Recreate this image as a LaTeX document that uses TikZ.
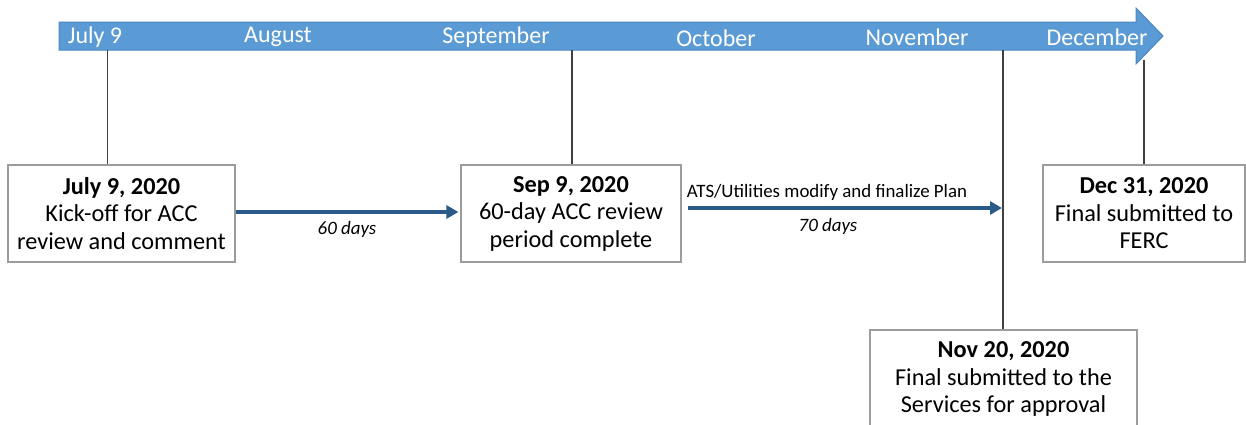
\documentclass[tikz,border=0pt]{standalone}
\usepackage{fontspec}
\setmainfont{Carlito}
\usetikzlibrary{arrows.meta,calc}
\definecolor{bandfill}{HTML}{5B9BD5}
\definecolor{bandedge}{HTML}{4A87C2}
\definecolor{flowblue}{HTML}{2C5A88}
\definecolor{boxedge}{HTML}{9C9C9C}
\definecolor{tickgray}{HTML}{404040}
\tikzset{
  month/.style={text=white, font=\fontsize{24}{28}\selectfont, inner sep=0pt},
  event/.style={draw=boxedge, line width=1.2pt, fill=white, align=center,
    inner sep=0pt, font=\fontsize{24.3}{27.5}\selectfont},
  tick/.style={draw=tickgray, line width=1.5pt},
  flow/.style={draw=flowblue, line width=4pt, -{Triangle[length=12pt,width=13pt]}},
  note/.style={font=\fontsize{18.9}{22}\selectfont, inner sep=0pt},
}
\begin{document}
\begin{tikzpicture}[x=1pt,y=-1pt]
\useasboundingbox (0,0) rectangle (1246,424);

% timeline band with arrow head
\path[fill=bandfill, draw=bandedge, line width=1pt]
  (59,22) -- (1136,22) -- (1136,8) -- (1163,36) -- (1136,64) -- (1136,50) -- (59,50) -- cycle;

% month labels
\node[month] (mJul) at (95,37)  {July 9};
\node[month] (mAug) at (278,37) {August};
\node[month] (mSep) at (496,37) {September};
\node[month] (mOct) at (716,38) {October};
\node[month] (mNov) at (917,37) {November};
\node[month] (mDec) at (1097,37) {December};

% tick anchors on the band
\coordinate (tJul) at (107.5,50);
\coordinate (tSep) at (572,50);
\coordinate (tNov) at (1003,50);
\coordinate (tDec) at (1144,60);

% milestone boxes
\node[event, minimum width=227pt, minimum height=97pt] (jul) at (121.5,213.5)
  {\textbf{July 9, 2020}\\Kick-off for ACC\\review and comment};
\node[event, minimum width=220pt, minimum height=97pt] (sep) at (571,213.5)
  {\textbf{Sep 9, 2020}\\60-day ACC review\\period complete};
\node[event, minimum width=202pt, minimum height=97pt] (dec) at (1144,213.5)
  {\textbf{Dec 31, 2020}\\Final submitted to\\FERC};
\node[event, minimum width=267pt, minimum height=98pt] (nov) at (1003.5,379)
  {\textbf{Nov 20, 2020}\\Final submitted to the\\Services for approval};

% ticks from band to boxes
\draw[tick] (tJul) -- (tJul |- jul.north);
\draw[tick] (tSep) -- (tSep |- sep.north);
\draw[tick] (tNov) -- (tNov |- nov.north);
\draw[tick] (tDec) -- (tDec |- dec.north);

% durations
\coordinate (a2s) at (688,208);
\coordinate (a2e) at (1002,208);
\draw[flow, shorten >=2pt] ($(jul.east)+(0,-1.5)$) -- ($(sep.west)+(0,-1.5)$);
\draw[flow] (a2s) -- (a2e);

\node[note] (d60) at (347,229) {\itshape 60 days};
\node[note] (ats) at (827,192) {ATS/Utilities modify and finalize Plan};
\node[note] (d70) at (828,226) {\itshape 70 days};
\end{tikzpicture}
\end{document}
